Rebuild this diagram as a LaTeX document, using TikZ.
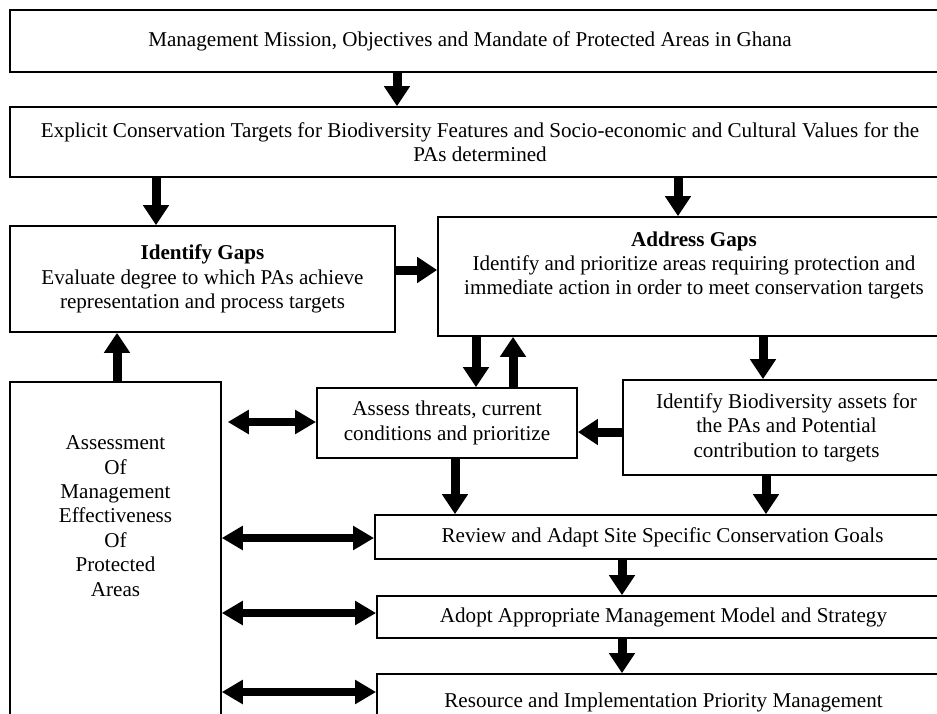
\documentclass[tikz,border=0pt]{standalone}
\usepackage{fontspec}
\setmainfont{Liberation Serif}
\usetikzlibrary{arrows.meta}
\tikzset{
  box/.style={draw, line width=1.8pt, inner sep=0pt, align=center, font=\fontsize{21.1pt}{24.4pt}\selectfont},
  txt/.style={align=center, inner sep=0pt, font=\fontsize{21.1pt}{24.4pt}\selectfont},
  arr/.style={line width=9pt, -{Triangle[width=25pt,length=20pt]}},
  dbl/.style={line width=8pt, {Triangle[width=23pt,length=21pt]}-{Triangle[width=23pt,length=21pt]}}
}
\begin{document}
\begin{tikzpicture}[x=1pt,y=-1pt]
\useasboundingbox (0,0) rectangle (937,713);
\clip (0,0) rectangle (937,713);
\fill[white] (0,0) rectangle (937,713);

\node[box, minimum width=940pt, minimum height=62pt,
  label={[txt,xshift=-10pt]center:Management Mission, Objectives and Mandate of Protected Areas in Ghana}] (b1) at (480,41) {};
\node[box, minimum width=940pt, minimum height=70pt] (b2) at (480,142)
  {Explicit Conservation Targets for Biodiversity Features and Socio-economic and Cultural Values for the\\PAs determined};
\node[box, minimum width=385pt, minimum height=106pt] (idg) at (202.5,279)
  {\textbf{Identify Gaps}\\Evaluate degree to which PAs achieve\\representation and process targets};
\node[box, minimum width=512pt, minimum height=119pt,
  label={[txt,yshift=11pt]center:\textbf{Address Gaps}\\Identify and prioritize areas requiring protection and\\immediate action in order to meet conservation targets}] (adg) at (694,276.5) {};
\node[box, line width=1.5pt, minimum width=211pt, minimum height=348pt,
  label={[txt,yshift=40pt]center:Assessment\\Of\\Management\\Effectiveness\\Of\\Protected\\Areas}] (ame) at (115.5,556) {};
\node[box, minimum width=260pt, minimum height=70pt] (ass) at (447,423)
  {Assess threats, current\\conditions and prioritize};
\node[box, minimum width=327pt, minimum height=95pt] (bio) at (786.5,427.5)
  {Identify Biodiversity assets for\\the PAs and Potential\\contribution to targets};
\node[box, minimum width=575pt, minimum height=44pt] (rev) at (662.5,537)
  {Review and Adapt Site Specific Conservation Goals};
\node[box, minimum width=573pt, minimum height=42pt] (ado) at (663.5,617)
  {Adopt Appropriate Management Model and Strategy};
\node[box, minimum width=573pt, minimum height=56pt] (res) at (663.5,702)
  {Resource and Implementation Priority Management};

\coordinate (xa) at (397,0);
\coordinate (xb) at (156,0);
\coordinate (xc) at (678,0);
\coordinate (xd) at (476,0);
\coordinate (xe) at (513,0);
\coordinate (xf) at (763,0);
\coordinate (xg) at (117,0);
\coordinate (xh) at (455,0);
\coordinate (xi) at (766,0);
\coordinate (xj) at (622,0);
\coordinate (yk) at (0,270);
\coordinate (yl) at (0,432);
\coordinate (ym) at (0,422);
\coordinate (yn) at (0,538);
\coordinate (yo) at (0,613);
\coordinate (yp) at (0,692);

\draw[arr] (b1.south -| xa) -- (b2.north -| xa);
\draw[arr] (b2.south -| xb) -- (idg.north -| xb);
\draw[arr] (b2.south -| xc) -- (adg.north -| xc);
\draw[arr] (idg.east |- yk) -- (adg.west |- yk);
\draw[arr] (adg.south -| xd) -- (ass.north -| xd);
\draw[arr] (ass.north -| xe) -- (adg.south -| xe);
\draw[arr] (adg.south -| xf) -- (bio.north -| xf);
\draw[arr] (bio.west |- yl) -- (ass.east |- yl);
\draw[arr] (ame.north -| xg) -- (idg.south -| xg);
\draw[arr] (ass.south -| xh) -- (rev.north -| xh);
\draw[arr] (bio.south -| xi) -- (rev.north -| xi);
\draw[arr] (rev.south -| xj) -- (ado.north -| xj);
\draw[arr] (ado.south -| xj) -- (res.north -| xj);
\draw[dbl, shorten <=6pt] (ame.east |- ym) -- (ass.west |- ym);
\draw[dbl] (ame.east |- yn) -- (rev.west |- yn);
\draw[dbl] (ame.east |- yo) -- (ado.west |- yo);
\draw[dbl] (ame.east |- yp) -- (res.west |- yp);
\end{tikzpicture}
\end{document}
